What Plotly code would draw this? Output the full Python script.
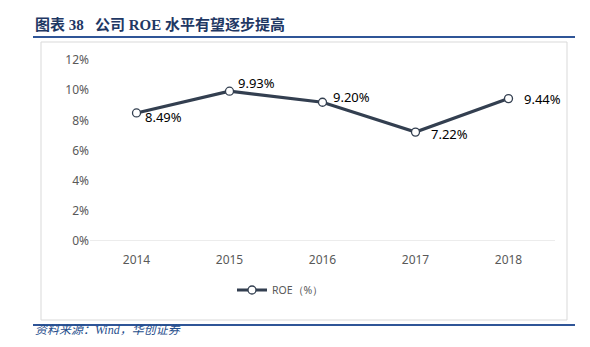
import plotly.graph_objects as go

years = ["2014", "2015", "2016", "2017", "2018"]
roe = [8.49, 9.93, 9.20, 7.22, 9.44]
labels = ["8.49%", "9.93%", "9.20%", "7.22%", "9.44%"]
label_shift_x = [6, 6, 8, 13, 13]
label_shift_y = [-4, 8, 5, -2, 0]
yticks = [0, 2, 4, 6, 8, 10, 12]
ytick_text = ["0%", "2%", "4%", "6%", "8%", "10%", "12%"]

W, H = 590, 347
L, R, T, B = 90, 555, 60, 241


def px(x):
    return (x - L) / (R - L)


def py(y):
    return (B - y) / (B - T)


fig = go.Figure()
fig.add_trace(go.Scatter(
    x=years, y=roe, mode="lines+markers", name="ROE（%）",
    line=dict(color="#333F50", width=3.2),
    marker=dict(size=8, color="white", line=dict(color="#333F50", width=1.3)),
    hoverinfo="skip",
))

annotations = []
for i, (yv, t, sx, sy) in enumerate(zip(roe, labels, label_shift_x, label_shift_y)):
    annotations.append(dict(x=i, y=yv, xref="x", yref="y", text=t, showarrow=False,
                            xanchor="left", yanchor="middle",
                            xshift=sx, yshift=sy, font=dict(size=13, color="#000000", family="Noto Sans")))

annotations.append(dict(xref="paper", yref="paper", x=px(33), y=py(24), xanchor="left", yanchor="middle",
                        text="<b>图表 38   公司 ROE 水平有望逐步提高</b>", showarrow=False,
                        font=dict(size=15, color="#1F3864", family="Liberation Serif, Noto Sans CJK SC")))
annotations.append(dict(xref="paper", yref="paper", x=px(33), y=py(330), xanchor="left", yanchor="middle",
                        text="<i>资料来源：Wind，华创证券</i>", showarrow=False,
                        font=dict(size=12, color="#1F4E8C", family="Liberation Serif, Noto Sans CJK SC")))

shapes = [
    dict(type="line", xref="paper", yref="paper", x0=px(33), x1=px(575), y0=py(37), y1=py(37),
         line=dict(color="#2F5597", width=2)),
    dict(type="rect", xref="paper", yref="paper", x0=px(41), x1=px(567), y0=py(42), y1=py(320),
         line=dict(color="#D9D9D9", width=1), layer="below"),
    dict(type="line", xref="paper", yref="paper", x0=px(33), x1=px(575), y0=py(325), y1=py(325),
         line=dict(color="#2F5597", width=2)),
    dict(type="line", xref="paper", yref="y", x0=0, x1=1, y0=0, y1=0,
         line=dict(color="#D9D9D9", width=1.2), layer="below"),
]

fig.update_layout(
    width=W, height=H,
    margin=dict(l=L, r=W - R, t=T, b=H - B),
    paper_bgcolor="white", plot_bgcolor="white",
    showlegend=True,
    legend=dict(orientation="h", x=px(232), y=py(290), xanchor="left", yanchor="middle",
                font=dict(size=10.5, color="#595959", family="Noto Sans"), itemwidth=30,
                bgcolor="rgba(0,0,0,0)"),
    xaxis=dict(type="category", showgrid=False, showline=False, zeroline=False, ticks="",
               ticklabelstandoff=10,
               tickfont=dict(size=12, color="#595959", family="Noto Sans"), range=[-0.5, 4.5]),
    yaxis=dict(range=[0, 12], tickvals=yticks, ticktext=ytick_text, showgrid=False, showline=False,
               zeroline=False, ticks="", tickfont=dict(size=12, color="#595959", family="Noto Sans")),
    annotations=annotations,
    shapes=shapes,
)

fig.write_html("out.html")
